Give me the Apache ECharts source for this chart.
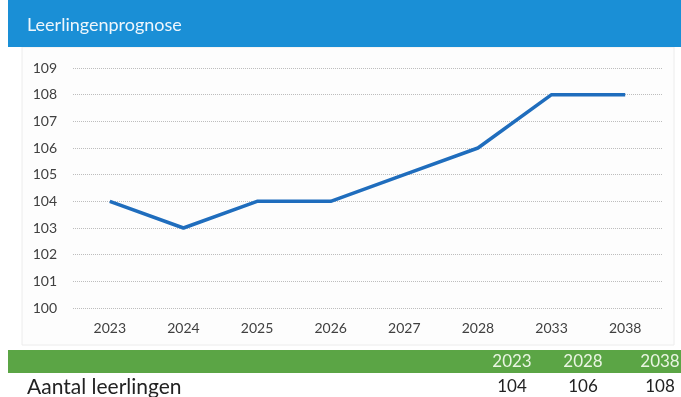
<!DOCTYPE html>
<html>
<head>
<meta charset="utf-8">
<script src="https://cdn.jsdelivr.net/npm/echarts@6/dist/echarts.min.js"></script>
<style>
  html, body { margin: 0; padding: 0; background: #ffffff; }
  #main { width: 681px; height: 397px; }
</style>
</head>
<body>
<div id="main"></div>
<script>
// 数据
var jaren = ["2023", "2024", "2025", "2026", "2027", "2028", "2033", "2038"];
var leerlingen = [104, 103, 104, 104, 105, 106, 108, 108];
var tabelJaren = ["2023", "2028", "2038"];
var tabelWaarden = [104, 106, 108];
var tabelX = [512, 583, 660];

var chart = echarts.init(document.getElementById("main"), null, { renderer: "canvas" });

var fontFam = "Lato, 'Open Sans', sans-serif";

// 表格文字
var tabelGraphics = [];
for (var i = 0; i < tabelJaren.length; i++) {
  tabelGraphics.push({
    type: "text", x: tabelX[i], y: 362,
    style: { text: tabelJaren[i], fill: "#e9f5e2", font: "17px " + fontFam, align: "center", verticalAlign: "middle" }
  });
  tabelGraphics.push({
    type: "text", x: tabelX[i], y: 387,
    style: { text: String(tabelWaarden[i]), fill: "#222", font: "17px " + fontFam, align: "center", verticalAlign: "middle" }
  });
}

var option = {
  backgroundColor: "#ffffff",
  animation: false,
  graphic: [
    // 面板边框
    { type: "rect", shape: { x: 22, y: 47, width: 652, height: 298 },
      style: { fill: "#fdfdfd", stroke: "#ececec", lineWidth: 1 }, z: -10 },
    // 标题栏
    { type: "rect", shape: { x: 8, y: 0, width: 673, height: 47 }, style: { fill: "#1a8fd6" }, z: -5 },
    { type: "text", x: 27, y: 25,
      style: { text: "Leerlingenprognose", fill: "#eef6fc", font: "18px " + fontFam, verticalAlign: "middle" } },
    // 绿色条
    { type: "rect", shape: { x: 8, y: 350, width: 673, height: 23 }, style: { fill: "#5ba545" }, z: -5 },
    { type: "text", x: 27, y: 387,
      style: { text: "Aantal leerlingen", fill: "#222", font: "21px " + fontFam, verticalAlign: "middle" } }
  ].concat(tabelGraphics),
  grid: { left: 73, right: 19, top: 68, bottom: 89 },
  xAxis: {
    type: "category",
    data: jaren,
    boundaryGap: true,
    axisLine: { show: false },
    axisTick: { show: false },
    axisLabel: { color: "#404040", fontSize: 14, fontFamily: fontFam, margin: 13 }
  },
  yAxis: {
    type: "value",
    min: 100,
    max: 109,
    interval: 1,
    axisLine: { show: false },
    axisTick: { show: false },
    axisLabel: { color: "#404040", fontSize: 14, fontFamily: fontFam, margin: 16 },
    splitLine: { lineStyle: { color: "#bdbdbd", type: "dotted", width: 1 } }
  },
  series: [
    {
      name: "Leerlingen",
      type: "line",
      data: leerlingen,
      symbol: "none",
      lineStyle: { color: "#1f6dbd", width: 3.5 },
      itemStyle: { color: "#1f6dbd" }
    }
  ]
};

chart.setOption(option);
</script>
</body>
</html>
